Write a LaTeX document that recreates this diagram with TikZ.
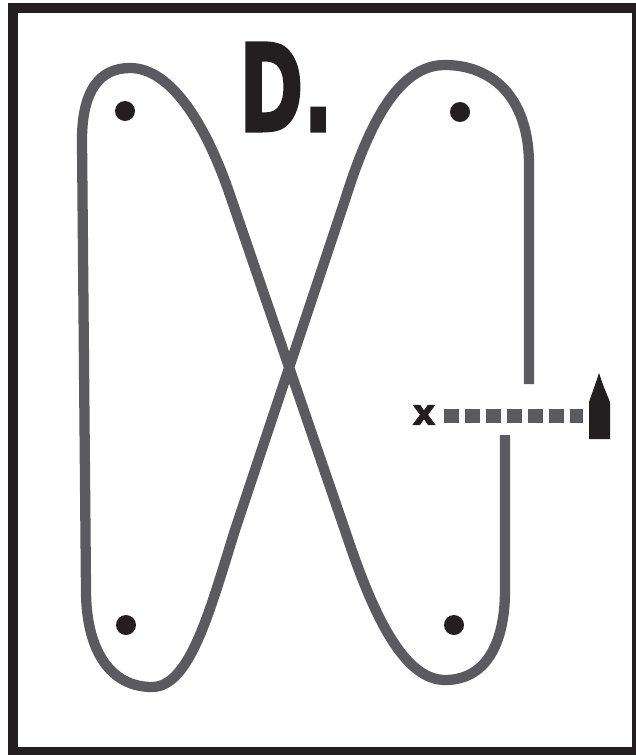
\documentclass[tikz,border=0pt]{standalone}
\usepackage{fontspec}
\usepackage{xcolor}
\usepackage{tikz}
\newfontfamily\boldfont[BoldFeatures={FakeBold=2.5}]{DejaVu Sans}
\definecolor{pista}{HTML}{5B5B5F}
\definecolor{nero}{HTML}{231F20}

\begin{document}
\begin{tikzpicture}[x=0.025cm, y=-0.025cm]
    % Stili
    \tikzstyle{cornice}=[draw=nero, line width=7.1pt]
    \tikzstyle{percorso}=[draw=pista, line width=7.3pt, line cap=butt]
    \tikzstyle{punto}=[fill=nero]
    \tikzstyle{tratteggio}=[draw=pista, line width=9.9pt, dash pattern=on 10.6pt off 4.3pt]

    \useasboundingbox (0,0) rectangle (636,755);

    % Cornice
    \draw[cornice] (13,8) rectangle (637,752);

    % Titolo
    \node (titolo) [anchor=base west, inner sep=0pt, xscale=0.64, text=nero]
        at (239,131) {\boldfont\bfseries\fontsize{86}{86}\selectfont D.};

    % Percorso a otto
    \draw[percorso] (529,384) -- (529,165)
        .. controls (529,95) and (490,65) .. (445,65)
        .. controls (400,65) and (370,120) .. (345,200)
        -- (235,530)
        .. controls (210,610) and (190,687) .. (152,687)
        .. controls (110,687) and (86,650) .. (86,590)
        -- (82,140)
        .. controls (82,90) and (100,68) .. (130,68)
        .. controls (170,68) and (205,122) .. (230,195)
        -- (350,545)
        .. controls (375,618) and (405,680) .. (445,680)
        .. controls (485,680) and (505,645) .. (505,590)
        -- (505,435);

    % Punti
    \foreach \px/\py in {125/111, 460/112, 126/625, 454/625}
        \fill[punto] (\px,\py) circle (10);

    % Partenza
    \node (croce) [inner sep=0pt, text=nero] at (424,415) {\boldfont\bfseries\fontsize{25}{25}\selectfont x};
    \coordinate (fine) at (583,416);
    \draw[tratteggio] (444,416) -- (fine);
    \fill[nero] (599,373) .. controls (603,385) .. (610,402) -- (610,439)
        -- (589,439) -- (589,402) .. controls (595,385) .. cycle;
\end{tikzpicture}
\end{document}
